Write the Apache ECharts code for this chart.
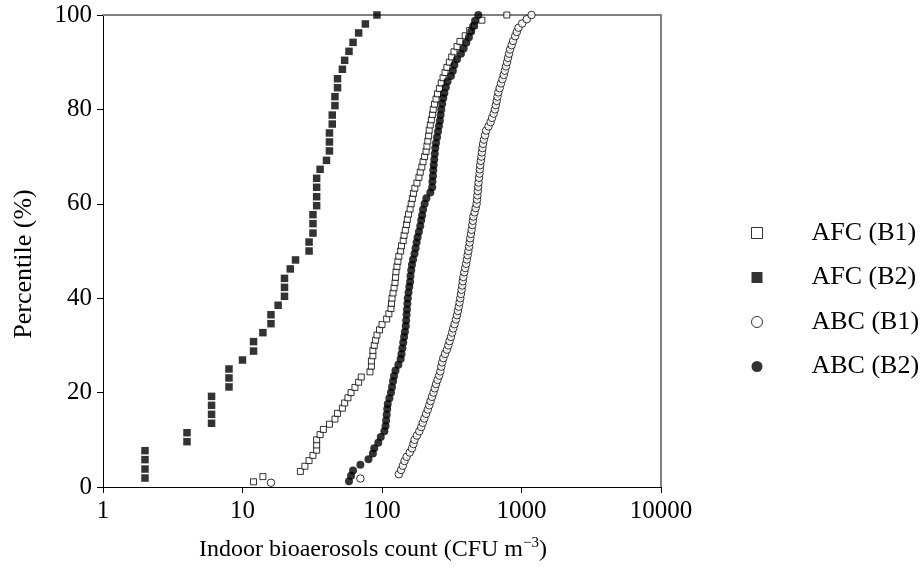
<!DOCTYPE html>
<html>
<head>
<meta charset="utf-8">
<script src="https://cdn.jsdelivr.net/npm/echarts@6/dist/echarts.min.js"></script>
<style>
html,body{margin:0;padding:0;background:#fff;}
#chart{width:923px;height:568px;}
</style>
</head>
<body>
<div id="chart"></div>
<script>
// ---- data ----
const seriesNames = ['AFC (B1)', 'AFC (B2)', 'ABC (B1)', 'ABC (B2)'];
const xTickLabels = ['1', '10', '100', '1000', '10000'];
const yTickLabels = ['0', '20', '40', '60', '80', '100'];

// AFC (B1): open squares
const afcB1Count = [12,14,26,28,30,32,34,34,34,36,
  38,42,46,48,52,54,57,60,64,68,
  71,82,84,84,86,86,88,90,92,96,
  100,108,112,116,117,118,120,122,124,125,
  126,128,130,132,136,138,142,144,147,150,
  152,155,159,162,165,168,172,178,184,188,
  193,197,202,207,210,213,216,218,222,226,
  230,233,238,244,250,258,266,274,283,292,
  304,316,328,345,362,395,425,460,520,785];
const afcB1Pct = [1.1,2.2,3.3,4.4,5.6,6.7,7.8,8.9,10,11.1,
  12.2,13.3,14.4,15.6,16.7,17.8,18.9,20,21.1,22.2,
  23.3,24.4,25.6,26.7,27.8,28.9,30,31.1,32.2,33.3,
  34.4,35.6,36.7,37.8,38.9,40,41.1,42.2,43.3,44.4,
  45.6,46.7,47.8,48.9,50,51.1,52.2,53.3,54.4,55.6,
  56.7,57.8,58.9,60,61.1,62.2,63.3,64.4,65.6,66.7,
  67.8,68.9,70,71.1,72.2,73.3,74.4,75.6,76.7,77.8,
  78.9,80,81.1,82.2,83.3,84.4,85.6,86.7,87.8,88.9,
  90,91.1,92.2,93.3,94.4,95.6,96.7,97.8,98.9,100];

// AFC (B2): filled squares
const afcB2Count = [2,2,2,2,4,4,6,6,6,6,
  8,8,8,10,12,12,14,16,16,18,
  20,20,20,22,24,30,30,32,32,32,
  34,34,34,34,36,40,42,42,42,44,
  44,46,46,48,48,52,54,58,62,68,
  76,92];
const afcB2Pct = [1.9,3.8,5.8,7.7,9.6,11.5,13.5,15.4,17.3,19.2,
  21.2,23.1,25,26.9,28.8,30.8,32.7,34.6,36.5,38.5,
  40.4,42.3,44.2,46.2,48.1,50,51.9,53.8,55.8,57.7,
  59.6,61.5,63.5,65.4,67.3,69.2,71.2,73.1,75,76.9,
  78.8,80.8,82.7,84.6,86.5,88.5,90.4,92.3,94.2,96.2,
  98.1,100];

// ABC (B1): open circles
const abcB1Count = [16,70,132,137,141,145,150,158,164,168,
  171,178,185,191,196,201,207,213,218,223,
  228,234,239,244,250,257,262,266,270,275,
  283,292,299,305,312,318,324,331,339,345,
  350,355,360,364,368,372,376,379,383,389,
  395,401,406,411,416,421,425,429,434,439,
  444,448,452,461,469,477,480,483,486,489,
  492,496,500,503,506,511,516,520,525,530,
  538,548,558,580,600,615,632,645,655,664,
  673,682,697,713,730,746,760,774,788,800,
  815,828,850,870,900,925,952,1010,1090,1180];
const abcB1Pct = [0.9,1.8,2.7,3.6,4.5,5.5,6.4,7.3,8.2,9.1,
  10,10.9,11.8,12.7,13.6,14.5,15.5,16.4,17.3,18.2,
  19.1,20,20.9,21.8,22.7,23.6,24.5,25.5,26.4,27.3,
  28.2,29.1,30,30.9,31.8,32.7,33.6,34.5,35.5,36.4,
  37.3,38.2,39.1,40,40.9,41.8,42.7,43.6,44.5,45.5,
  46.4,47.3,48.2,49.1,50,50.9,51.8,52.7,53.6,54.5,
  55.5,56.4,57.3,58.2,59.1,60,60.9,61.8,62.7,63.6,
  64.5,65.5,66.4,67.3,68.2,69.1,70,70.9,71.8,72.7,
  73.6,74.5,75.5,76.4,77.3,78.2,79.1,80,80.9,81.8,
  82.7,83.6,84.5,85.5,86.4,87.3,88.2,89.1,90,90.9,
  91.8,92.7,93.6,94.5,95.5,96.4,97.3,98.2,99.1,100];

// ABC (B2): filled circles
const abcB2Count = [58,60,62,70,80,86,88,94,98,104,
  106,107,108,109,110,113,116,118,120,122,
  125,131,136,138,140,142,144,146,148,149,
  150,151,152,153,155,157,159,160,162,164,
  167,171,174,177,180,184,188,191,194,197,
  202,208,222,229,230,232,233,235,237,239,
  241,244,248,252,256,260,263,266,270,275,
  280,287,295,312,322,330,345,368,385,402,
  420,436,450,465,490];
const abcB2Pct = [1.2,2.4,3.5,4.7,5.9,7.1,8.2,9.4,10.6,11.8,
  12.9,14.1,15.3,16.5,17.6,18.8,20,21.2,22.4,23.5,
  24.7,25.9,27.1,28.2,29.4,30.6,31.8,32.9,34.1,35.3,
  36.5,37.6,38.8,40,41.2,42.4,43.5,44.7,45.9,47.1,
  48.2,49.4,50.6,51.8,52.9,54.1,55.3,56.5,57.6,58.8,
  60,61.2,62.4,63.5,64.7,65.9,67.1,68.2,69.4,70.6,
  71.8,72.9,74.1,75.3,76.5,77.6,78.8,80,81.2,82.4,
  83.5,84.7,85.9,87.1,88.2,89.4,90.6,91.8,92.9,94.1,
  95.3,96.5,97.6,98.8,100];

// ---- build ----
function pairs(xs, ys) {
  const n = Math.min(xs.length, ys.length);
  const out = [];
  for (let i = 0; i < n; i++) out.push([xs[i], ys[i]]);
  return out;
}
const FONT = "'Liberation Serif', 'Times New Roman', serif";
const chart = echarts.init(document.getElementById('chart'), null, {renderer: 'canvas'});

const openStyle = {color: '#ffffff', borderColor: '#000000', borderWidth: 1};
const fillStyle = {color: '#000000', borderColor: '#000000', borderWidth: 0};

const option = {
  backgroundColor: '#ffffff',
  animation: false,
  textStyle: {fontFamily: FONT, color: '#000'},
  grid: {left: 103, top: 15, right: 262, bottom: 81, containLabel: false},
  legend: {
    orient: 'vertical',
    left: 751,
    top: 219,
    padding: 0,
    itemGap: 16.5,
    itemWidth: 11,
    itemHeight: 11,
    selectedMode: false,
    textStyle: {fontFamily: FONT, fontSize: 26, color: '#000', lineHeight: 28, padding: [0, 0, 0, 44]},
    data: [
      {name: seriesNames[0], icon: 'rect', itemStyle: {color: '#fff', borderColor: '#000', borderWidth: 1}},
      {name: seriesNames[1], icon: 'rect'},
      {name: seriesNames[2], icon: 'circle', itemStyle: {color: '#fff', borderColor: '#000', borderWidth: 1}},
      {name: seriesNames[3], icon: 'circle'}
    ]
  },
  xAxis: [{
    type: 'log',
    logBase: 10,
    min: 1,
    max: 10000,
    position: 'bottom',
    name: '{a|Indoor bioaerosols count (CFU m}{s|\u22123}{a|)}',
    nameLocation: 'middle',
    nameGap: 49,
    nameTextStyle: {
      padding: [0, 18, 0, 0],
      rich: {
        a: {fontFamily: FONT, fontSize: 24, color: '#000', lineHeight: 28},
        s: {fontFamily: FONT, fontSize: 15, color: '#000', verticalAlign: 'top', lineHeight: 16}
      }
    },
    axisLine: {show: true, onZero: false, lineStyle: {color: '#000', width: 1}},
    axisTick: {show: true, inside: false, length: 6, lineStyle: {color: '#000'}},
    minorTick: {show: false},
    splitLine: {show: false},
    axisLabel: {
      fontFamily: FONT, fontSize: 25, color: '#000', margin: 12,
      formatter: function (v) {
        const i = Math.round(Math.log10(v));
        return xTickLabels[i] !== undefined ? xTickLabels[i] : '';
      }
    }
  }, {
    type: 'log', logBase: 10, min: 1, max: 10000, position: 'top',
    axisLine: {show: true, onZero: false, lineStyle: {color: '#808080', width: 2}},
    axisTick: {show: false}, axisLabel: {show: false}, splitLine: {show: false}
  }],
  yAxis: [{
    type: 'value',
    min: 0,
    max: 100,
    interval: 20,
    position: 'left',
    name: 'Percentile (%)',
    nameLocation: 'middle',
    nameGap: 66,
    nameRotate: 90,
    nameTextStyle: {fontFamily: FONT, fontSize: 26, color: '#000', padding: [0, 26, 0, 0]},
    axisLine: {show: true, onZero: false, lineStyle: {color: '#000', width: 1}},
    axisTick: {show: true, inside: false, length: 6, lineStyle: {color: '#000'}},
    splitLine: {show: false},
    axisLabel: {
      fontFamily: FONT, fontSize: 25, color: '#000', margin: 11,
      formatter: function (v) { return yTickLabels[Math.round(v / 20)]; }
    }
  }, {
    type: 'value', min: 0, max: 100, interval: 20, position: 'right',
    axisLine: {show: true, onZero: false, lineStyle: {color: '#808080', width: 2}},
    axisTick: {show: false}, axisLabel: {show: false}, splitLine: {show: false}
  }],
  series: [
    {name: seriesNames[0], type: 'scatter', symbol: 'rect', symbolSize: 6, clip: false,
     itemStyle: openStyle, data: pairs(afcB1Count, afcB1Pct)},
    {name: seriesNames[1], type: 'scatter', symbol: 'rect', symbolSize: 7.5, clip: false,
     itemStyle: fillStyle, data: pairs(afcB2Count, afcB2Pct)},
    {name: seriesNames[2], type: 'scatter', symbol: 'circle', symbolSize: 7.5, clip: false,
     itemStyle: openStyle, data: pairs(abcB1Count, abcB1Pct)},
    {name: seriesNames[3], type: 'scatter', symbol: 'circle', symbolSize: 8, clip: false,
     itemStyle: fillStyle, data: pairs(abcB2Count, abcB2Pct)}
  ]
};
chart.setOption(option);
</script>
</body>
</html>
